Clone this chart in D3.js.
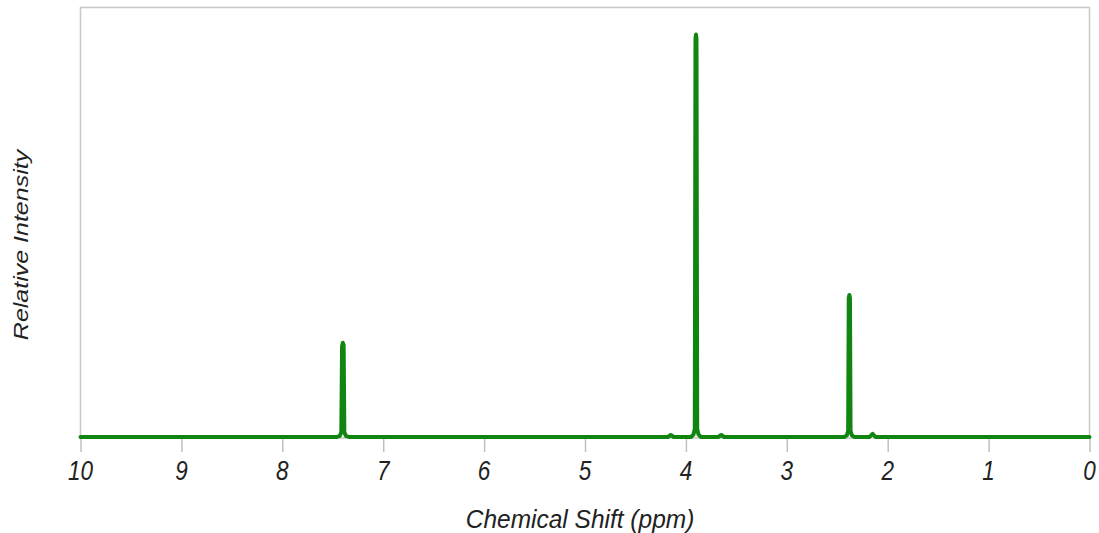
<!DOCTYPE html>
<html>
<head>
<meta charset="utf-8">
<script src="https://cdn.jsdelivr.net/npm/d3@7"></script>
<style>
  body { margin: 0; background: #fff; }
  svg { display: block; }
  text { font-family: "Liberation Sans", Arial, sans-serif; font-style: italic; fill: #222; }
</style>
</head>
<body>
<svg id="chart" width="1099" height="533"></svg>
<script>
// Spectrum sample points (ppm, relative intensity)
const ppm = [10, 7.46, 7.43, 7.415, 7.408, 7.40, 7.392, 7.385, 7.37, 7.34,
             4.18, 4.15, 4.12, 3.95, 3.925, 3.912, 3.905, 3.90, 3.895, 3.888, 3.875, 3.85,
             3.68, 3.65, 3.62, 2.43, 2.405, 2.392, 2.386, 2.38, 2.374, 2.368, 2.355, 2.33,
             2.18, 2.15, 2.12, 0];
const intensity = [0, 0, 0.003, 0.012, 0.225, 0.234, 0.228, 0.012, 0.003, 0,
                   0, 0.005, 0, 0, 0.006, 0.02, 0.99, 1.0, 0.99, 0.02, 0.006, 0,
                   0, 0.005, 0, 0, 0.004, 0.015, 0.345, 0.353, 0.345, 0.015, 0.004, 0,
                   0, 0.008, 0, 0];
const xTicks = [10, 9, 8, 7, 6, 5, 4, 3, 2, 1, 0];
const xTitle = "Chemical Shift (ppm)";
const yTitle = "Relative Intensity";

const svg = d3.select("#chart");
const mLeft = 80.5, mRight = 1089.5, mTop = 7.5, mBottom = 438;
const x = d3.scaleLinear().domain([10, 0]).range([mLeft, mRight]);
const y = d3.scaleLinear().domain([0, 1.067]).range([437, mTop]);

// frame
svg.append("rect").attr("x", mLeft).attr("y", mTop)
  .attr("width", mRight - mLeft).attr("height", mBottom - mTop)
  .attr("fill", "none").attr("stroke", "#c8c8c8").attr("stroke-width", 1.5);

// axis tick marks
const axis = d3.axisBottom(x).tickValues(xTicks).tickSize(14).tickFormat("");
const gA = svg.append("g").attr("transform", `translate(0,${mBottom})`).call(axis);
gA.select(".domain").remove();
gA.selectAll(".tick line").attr("stroke", "#c0c0c0").attr("stroke-width", 1.5);

// tick labels
svg.append("g").selectAll("text").data(xTicks).join("text")
  .attr("transform", d => `translate(${x(d)},480) scale(1,1.25)`)
  .attr("text-anchor", "middle").attr("font-size", 22.5)
  .text(d3.format("d"));

// spectrum line
const data = ppm.map((p, i) => [p, intensity[i]]);
svg.append("path").datum(data)
  .attr("fill", "none").attr("stroke", "#108510").attr("stroke-width", 4)
  .attr("stroke-linejoin", "round").attr("stroke-linecap", "round")
  .attr("d", d3.line().x(d => x(d[0])).y(d => y(d[1])));

// titles
svg.append("text").attr("transform", "translate(580,528) scale(1,1.08)")
  .attr("text-anchor", "middle").attr("font-size", 24.5).text(xTitle);
svg.append("text").attr("transform", "translate(28,245) rotate(-90) scale(1.25,1)")
  .attr("text-anchor", "middle").attr("font-size", 20).text(yTitle);
</script>
</body>
</html>
